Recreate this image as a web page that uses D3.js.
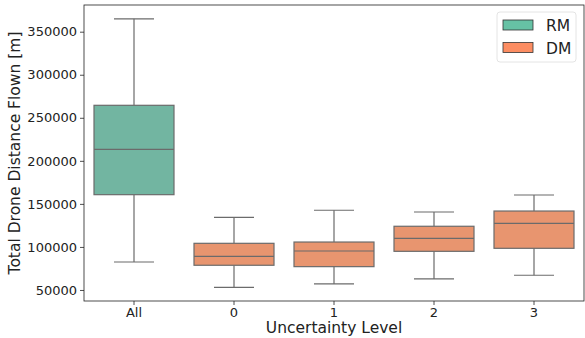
<!DOCTYPE html>
<html>
<head>
<meta charset="utf-8">
<script src="https://cdn.jsdelivr.net/npm/d3@7"></script>
<style>
  body { margin: 0; background: #fff; }
  text { font-family: "DejaVu Sans", sans-serif; fill: #222; }
</style>
</head>
<body>
<div id="chart"></div>
<script>
// categories and box stats
var categories = ["All", "0", "1", "2", "3"];
var groups = ["RM", "DM", "DM", "DM", "DM"];
var whiskerLow = [82500, 53100, 57000, 62800, 67100];
var q1 = [160700, 78700, 77100, 94900, 98400];
var median = [213400, 89100, 95300, 110000, 127400];
var q3 = [264500, 104200, 105700, 124000, 141700];
var whiskerHigh = [365000, 134400, 142600, 140600, 160300];
var yTicks = [50000, 100000, 150000, 200000, 250000, 300000, 350000];
var legendNames = ["RM", "DM"];

var width = 585, height = 338;
var margin = {top: 5, right: 1, bottom: 37, left: 84};

var boxColor = {RM: "#72b5a1", DM: "#e8956f"};
var legendColor = {RM: "#66c2a5", DM: "#fc8d62"};
var lineColor = "#6b6b6b";

var svg = d3.select("#chart")
    .append("svg")
    .attr("width", width)
    .attr("height", height);

var x = d3.scaleBand()
    .domain(categories)
    .range([margin.left, width - margin.right])
    .paddingInner(0.2)
    .paddingOuter(0.1);

var y = d3.scaleLinear()
    .domain([37200, 381000])
    .range([height - margin.bottom, margin.top]);

var data = categories.map(function(c, i) {
    return {cat: c, group: groups[i], lo: whiskerLow[i], q1: q1[i],
            med: median[i], q3: q3[i], hi: whiskerHigh[i]};
});

var g = svg.selectAll("g.box")
    .data(data)
    .enter()
    .append("g")
    .attr("class", "box");

var cx = function(d) { return x(d.cat) + x.bandwidth() / 2; };

// whiskers
g.append("line")
    .attr("x1", cx).attr("x2", cx)
    .attr("y1", function(d) { return y(d.hi); })
    .attr("y2", function(d) { return y(d.q3); })
    .attr("stroke", lineColor).attr("stroke-width", 1.2);
g.append("line")
    .attr("x1", cx).attr("x2", cx)
    .attr("y1", function(d) { return y(d.q1); })
    .attr("y2", function(d) { return y(d.lo); })
    .attr("stroke", lineColor).attr("stroke-width", 1.2);

// caps
["hi", "lo"].forEach(function(k) {
    g.append("line")
        .attr("x1", function(d) { return cx(d) - x.bandwidth() / 4; })
        .attr("x2", function(d) { return cx(d) + x.bandwidth() / 4; })
        .attr("y1", function(d) { return y(d[k]); })
        .attr("y2", function(d) { return y(d[k]); })
        .attr("stroke", lineColor).attr("stroke-width", 1.2);
});

// boxes
g.append("rect")
    .attr("x", function(d) { return x(d.cat); })
    .attr("width", x.bandwidth())
    .attr("y", function(d) { return y(d.q3); })
    .attr("height", function(d) { return y(d.q1) - y(d.q3); })
    .attr("fill", function(d) { return boxColor[d.group]; })
    .attr("stroke", lineColor).attr("stroke-width", 1.2);

// medians
g.append("line")
    .attr("x1", function(d) { return x(d.cat); })
    .attr("x2", function(d) { return x(d.cat) + x.bandwidth(); })
    .attr("y1", function(d) { return y(d.med); })
    .attr("y2", function(d) { return y(d.med); })
    .attr("stroke", lineColor).attr("stroke-width", 1.2);

// axes
var xAxis = d3.axisBottom(x).tickSize(4).tickPadding(3);
var yAxis = d3.axisLeft(y).tickValues(yTicks).tickFormat(d3.format("d")).tickSize(4).tickPadding(3);

var gx = svg.append("g")
    .attr("transform", "translate(0," + (height - margin.bottom) + ")")
    .call(xAxis);
var gy = svg.append("g")
    .attr("transform", "translate(" + margin.left + ",0)")
    .call(yAxis);
[gx, gy].forEach(function(a) {
    a.select(".domain").remove();
    a.selectAll(".tick line").attr("stroke", "#222").attr("stroke-width", 0.8);
    a.selectAll(".tick text").style("font-size", "13px").style("font-family", "DejaVu Sans").attr("fill", "#222");
});

// frame
svg.append("rect")
    .attr("x", margin.left)
    .attr("y", margin.top)
    .attr("width", width - margin.right - margin.left)
    .attr("height", height - margin.bottom - margin.top)
    .attr("fill", "none")
    .attr("stroke", "#222")
    .attr("stroke-width", 0.8);

// axis labels
svg.append("text")
    .attr("x", (margin.left + width - margin.right) / 2)
    .attr("y", 333)
    .attr("text-anchor", "middle")
    .style("font-size", "15.5px")
    .text("Uncertainty Level");

svg.append("text")
    .attr("transform", "translate(20," + ((margin.top + height - margin.bottom) / 2) + ") rotate(-90)")
    .attr("text-anchor", "middle")
    .style("font-size", "15.5px")
    .text("Total Drone Distance Flown [m]");

// legend
var lg = svg.append("g").attr("transform", "translate(497,12)");
lg.append("rect")
    .attr("width", 79).attr("height", 50).attr("rx", 3)
    .attr("fill", "#fff").attr("fill-opacity", 0.8)
    .attr("stroke", "#ddd").attr("stroke-width", 0.8);
legendNames.forEach(function(n, i) {
    lg.append("rect")
        .attr("x", 6).attr("y", 8 + i * 22.5)
        .attr("width", 30).attr("height", 10)
        .attr("fill", legendColor[n])
        .attr("stroke", "#333").attr("stroke-width", 0.8);
    lg.append("text")
        .attr("x", 49).attr("y", 19 + i * 22.5)
        .style("font-size", "15.5px")
        .text(n);
});
</script>
</body>
</html>
